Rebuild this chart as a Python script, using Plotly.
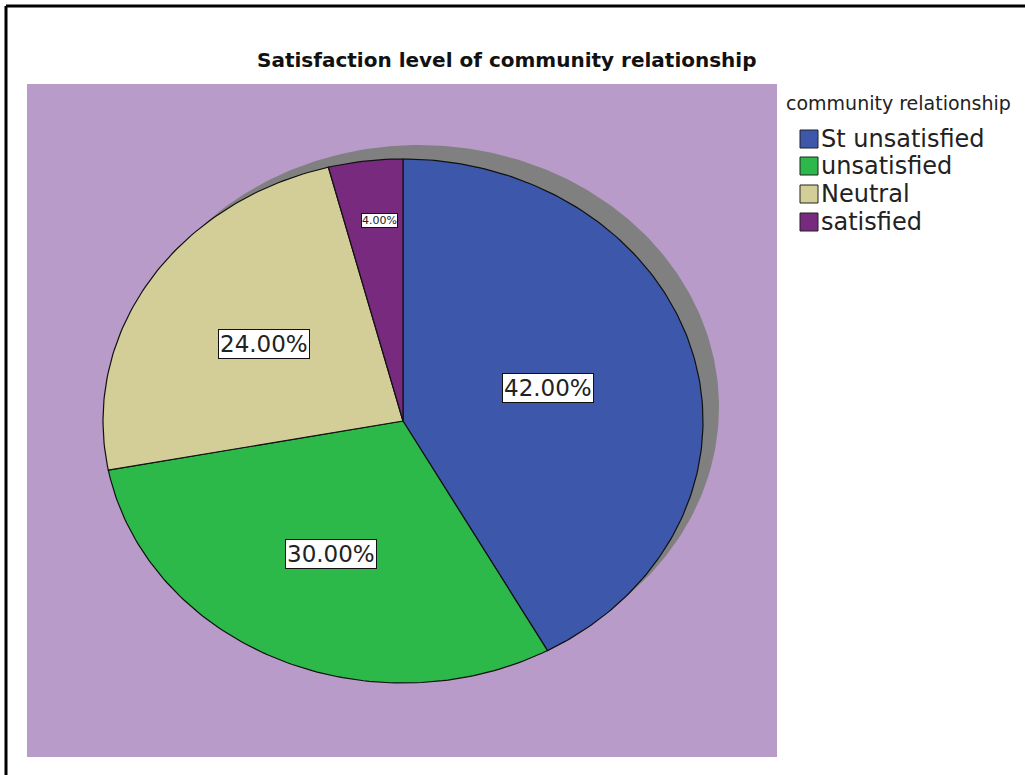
import numpy as np
import plotly.graph_objects as go

# Survey result: satisfaction level of community relationship (percent)
categories = ["St unsatisfied", "unsatisfied", "Neutral", "satisfied"]
percentages = [42.0, 30.0, 24.0, 4.0]
slice_colors = ["#3d57ab", "#2db84a", "#d3ce98", "#782a7e"]

title_text = "Satisfaction level of community relationship"
legend_title = "community relationship"

# Canvas geometry (axes are mapped 1:1 onto pixels)
W, H = 1025, 775
CX, CY = 403, 421          # pie centre
RX, RY = 300, 262          # elliptical radii
SHADOW_DX, SHADOW_DY = 16, -14
LABEL_R = [0.50, 0.56, 0.55, 0.77]
LABEL_SIZE = [23, 23, 23, 11]

FONT = "DejaVu Sans"


def ellipse_pt(frac_angle, scale=1.0, dx=0.0, dy=0.0):
    """Point on the ellipse; angle as a fraction of a full turn, clockwise from 12 o'clock."""
    a = 2 * np.pi * np.asarray(frac_angle)
    return (CX + dx + RX * scale * np.sin(a), CY + dy - RY * scale * np.cos(a))


fig = go.Figure()

# drop shadow behind the pie
t = np.linspace(0, 1, 361)
sx, sy = ellipse_pt(t, dx=SHADOW_DX, dy=SHADOW_DY)
fig.add_trace(go.Scatter(x=sx, y=sy, mode="lines", fill="toself",
                         fillcolor="#808080", line=dict(color="#808080", width=0),
                         hoverinfo="skip", showlegend=False))

# wedges
total = sum(percentages)
start = 0.0
annotations = []
for i, (name, val, col) in enumerate(zip(categories, percentages, slice_colors)):
    frac = val / total
    arc = np.linspace(start, start + frac, max(int(frac * 360), 4))
    ax_, ay_ = ellipse_pt(arc)
    xs = np.concatenate([[CX], ax_, [CX]])
    ys = np.concatenate([[CY], ay_, [CY]])
    fig.add_trace(go.Scatter(x=xs, y=ys, mode="lines", fill="toself",
                             fillcolor=col, line=dict(color="#111111", width=1.2),
                             name=name, hoverinfo="name", showlegend=False))
    mid = start + frac / 2
    lx, ly = ellipse_pt(mid, scale=LABEL_R[i])
    annotations.append(dict(x=float(lx) + (5 if LABEL_SIZE[i] < 15 else 0), y=float(ly),
                            xref="x", yref="y",
                            text=f"{val:.2f}%", showarrow=False,
                            font=dict(family=FONT, size=LABEL_SIZE[i], color="#222222"),
                            bgcolor="white", bordercolor="#111111", borderwidth=1,
                            borderpad=1 if LABEL_SIZE[i] > 15 else 0))
    start += frac

# title
annotations.append(dict(x=507, y=60, xref="x", yref="y", text=f"<b>{title_text}</b>",
                        showarrow=False, font=dict(family=FONT, size=20, color="#111111")))

# legend (title, swatches, labels)
annotations.append(dict(x=784, y=103, xref="x", yref="y", xanchor="left",
                        text=legend_title, showarrow=False,
                        font=dict(family=FONT, size=19, color="#222222")))
shapes = []
row_y = [139, 166, 194, 222]
for name, col, yy in zip(categories, slice_colors, row_y):
    shapes.append(dict(type="rect", xref="x", yref="y", x0=800, x1=818,
                       y0=yy - 9, y1=yy + 9, fillcolor=col,
                       line=dict(color="#222222", width=1), layer="above"))
    annotations.append(dict(x=819, y=yy, xref="x", yref="y", xanchor="left",
                            text=name, showarrow=False,
                            font=dict(family=FONT, size=24, color="#222222")))

# plot-area background and outer frame
shapes.insert(0, dict(type="rect", xref="x", yref="y", x0=27, x1=777, y0=84, y1=757,
                      fillcolor="#b89bc9", line=dict(width=0), layer="below"))
shapes.append(dict(type="line", xref="x", yref="y", x0=6, x1=W, y0=6, y1=6,
                   line=dict(color="black", width=3)))
shapes.append(dict(type="line", xref="x", yref="y", x0=6, x1=6, y0=6, y1=H,
                   line=dict(color="black", width=3)))

fig.update_layout(
    width=W, height=H,
    margin=dict(l=0, r=0, t=0, b=0),
    paper_bgcolor="white", plot_bgcolor="white",
    xaxis=dict(range=[0, W], visible=False, fixedrange=True),
    yaxis=dict(range=[H, 0], visible=False, fixedrange=True),
    shapes=shapes, annotations=annotations, showlegend=False,
)

fig.write_html("out.html")
